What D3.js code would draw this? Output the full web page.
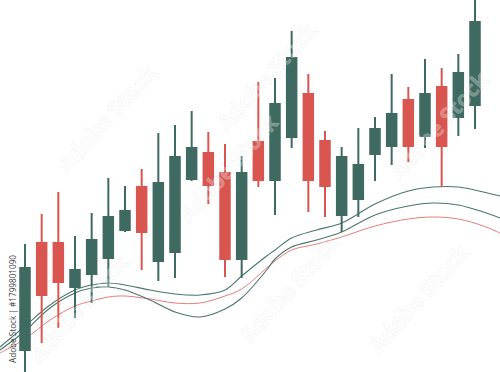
<!DOCTYPE html>
<html>
<head>
<meta charset="utf-8">
<script src="https://cdn.jsdelivr.net/npm/d3@7"></script>
<style>
  html, body { margin: 0; padding: 0; background: #ffffff; }
  svg { display: block; }
</style>
</head>
<body>
<svg id="chart" width="500" height="372"></svg>
<script>
// ---- data (price units) ----
const openPrices  = [21,130,130,84,97,113,141,186,110,119,192,220,200,112,231,191,234,279,232,156,172,217,225,273,235,286,254,266];
const highPrices  = [128,158,180,136,159,194,186,203,239,247,261,240,228,216,290,294,341,298,241,225,244,255,298,285,313,304,318,374];
const lowPrices   = [-13,29,44,54,69,85,140,102,91,94,191,168,95,94,185,157,224,160,155,140,155,191,207,210,224,185,236,243];
const closePrices = [105,76,89,103,133,156,162,139,190,216,225,186,112,200,191,269,315,191,185,216,208,244,259,225,279,225,300,351];

// smooth indicator lines, sampled at (fractional) candle positions
const lineIndex = [-1.5,0,1.5,3,4,5,6,7.5,9,10.5,12,13,14.5,15,16,17.5,19,21,23,24.5,26,27.5,28.5];
const lineUpper = [25,46,67,82,87,89,87,82,78,77,82,96,116,122,134,142,149,168,181,185,185,180,176];
const lineMid   = [22,41,64,79,84,85,82,72,60,55,63,74,102,113,125,132,140,157,166,169,167,160,154];
const lineRed   = [19,33,52,66,71,75,76,73,69,69,76,83,104,111,122,128,135,146,153,155,153,146,139];

const watermarkText = "Adobe Stock";
const creditText = "Adobe Stock | #1799801090";

// ---- setup ----
const W = 500, H = 372;
const GREEN = "#3e6a62", RED = "#d8564f";
const svg = d3.select("#chart");

const n = openPrices.length;
const x = d3.scaleLinear().domain([0, n - 1]).range([25, 475]);
const y = d3.scaleLinear().domain([0, 372]).range([372, 0]);
const step = x(1) - x(0);
const bodyW = step * 0.69;

const candles = openPrices.map((o, i) => ({
  i, open: o, high: highPrices[i], low: lowPrices[i], close: closePrices[i],
  up: closePrices[i] >= o
}));

// ---- lines ----
const series = [
  { vals: lineRed,   color: "#e57e79", w: 1.0 },
  { vals: lineMid,   color: "#4a756d", w: 1.1 },
  { vals: lineUpper, color: "#4a756d", w: 1.1 }
];
const lineGen = d3.line()
  .x(d => x(d[0])).y(d => y(d[1]))
  .curve(d3.curveCatmullRom.alpha(0.5));
svg.append("g").selectAll("path").data(series).join("path")
  .attr("d", s => lineGen(lineIndex.map((ix, k) => [ix, s.vals[k]])))
  .attr("fill", "none")
  .attr("stroke", s => s.color)
  .attr("stroke-width", s => s.w);

// ---- candles ----
const g = svg.append("g");
g.selectAll("line.wick").data(candles).join("line")
  .attr("class", "wick")
  .attr("x1", d => x(d.i)).attr("x2", d => x(d.i))
  .attr("y1", d => y(d.high)).attr("y2", d => y(d.low))
  .attr("stroke", d => d.up ? GREEN : RED)
  .attr("stroke-width", 2);
g.selectAll("rect.body").data(candles).join("rect")
  .attr("class", "body")
  .attr("x", d => x(d.i) - bodyW / 2)
  .attr("width", bodyW)
  .attr("y", d => y(Math.max(d.open, d.close)))
  .attr("height", d => Math.abs(y(d.open) - y(d.close)))
  .attr("fill", d => d.up ? GREEN : RED);

// ---- faint watermark ----
const wmPos = [[108, 120], [230, 170], [440, 127], [80, 310], [291, 290], [420, 300], [268, 78]];
svg.append("g").selectAll("text").data(wmPos).join("text")
  .attr("transform", d => `translate(${d[0]},${d[1]}) rotate(-48)`)
  .attr("text-anchor", "middle")
  .attr("dominant-baseline", "middle")
  .attr("font-family", "Open Sans, sans-serif")
  .attr("font-weight", "bold")
  .attr("font-size", 22)
  .attr("fill", "#ffffff")
  .attr("fill-opacity", 0.28)
  .attr("stroke", "#d8d8d8")
  .attr("stroke-opacity", 0.3)
  .attr("stroke-width", 0.7)
  .text(watermarkText);

// ---- vertical credit ----
svg.append("text")
  .attr("transform", "translate(15.5,363) rotate(-90)")
  .attr("font-family", "Open Sans, sans-serif")
  .attr("font-size", 9)
  .attr("fill", "#444444")
  .attr("textLength", 108)
  .attr("lengthAdjust", "spacingAndGlyphs")
  .text(creditText);
</script>
</body>
</html>
